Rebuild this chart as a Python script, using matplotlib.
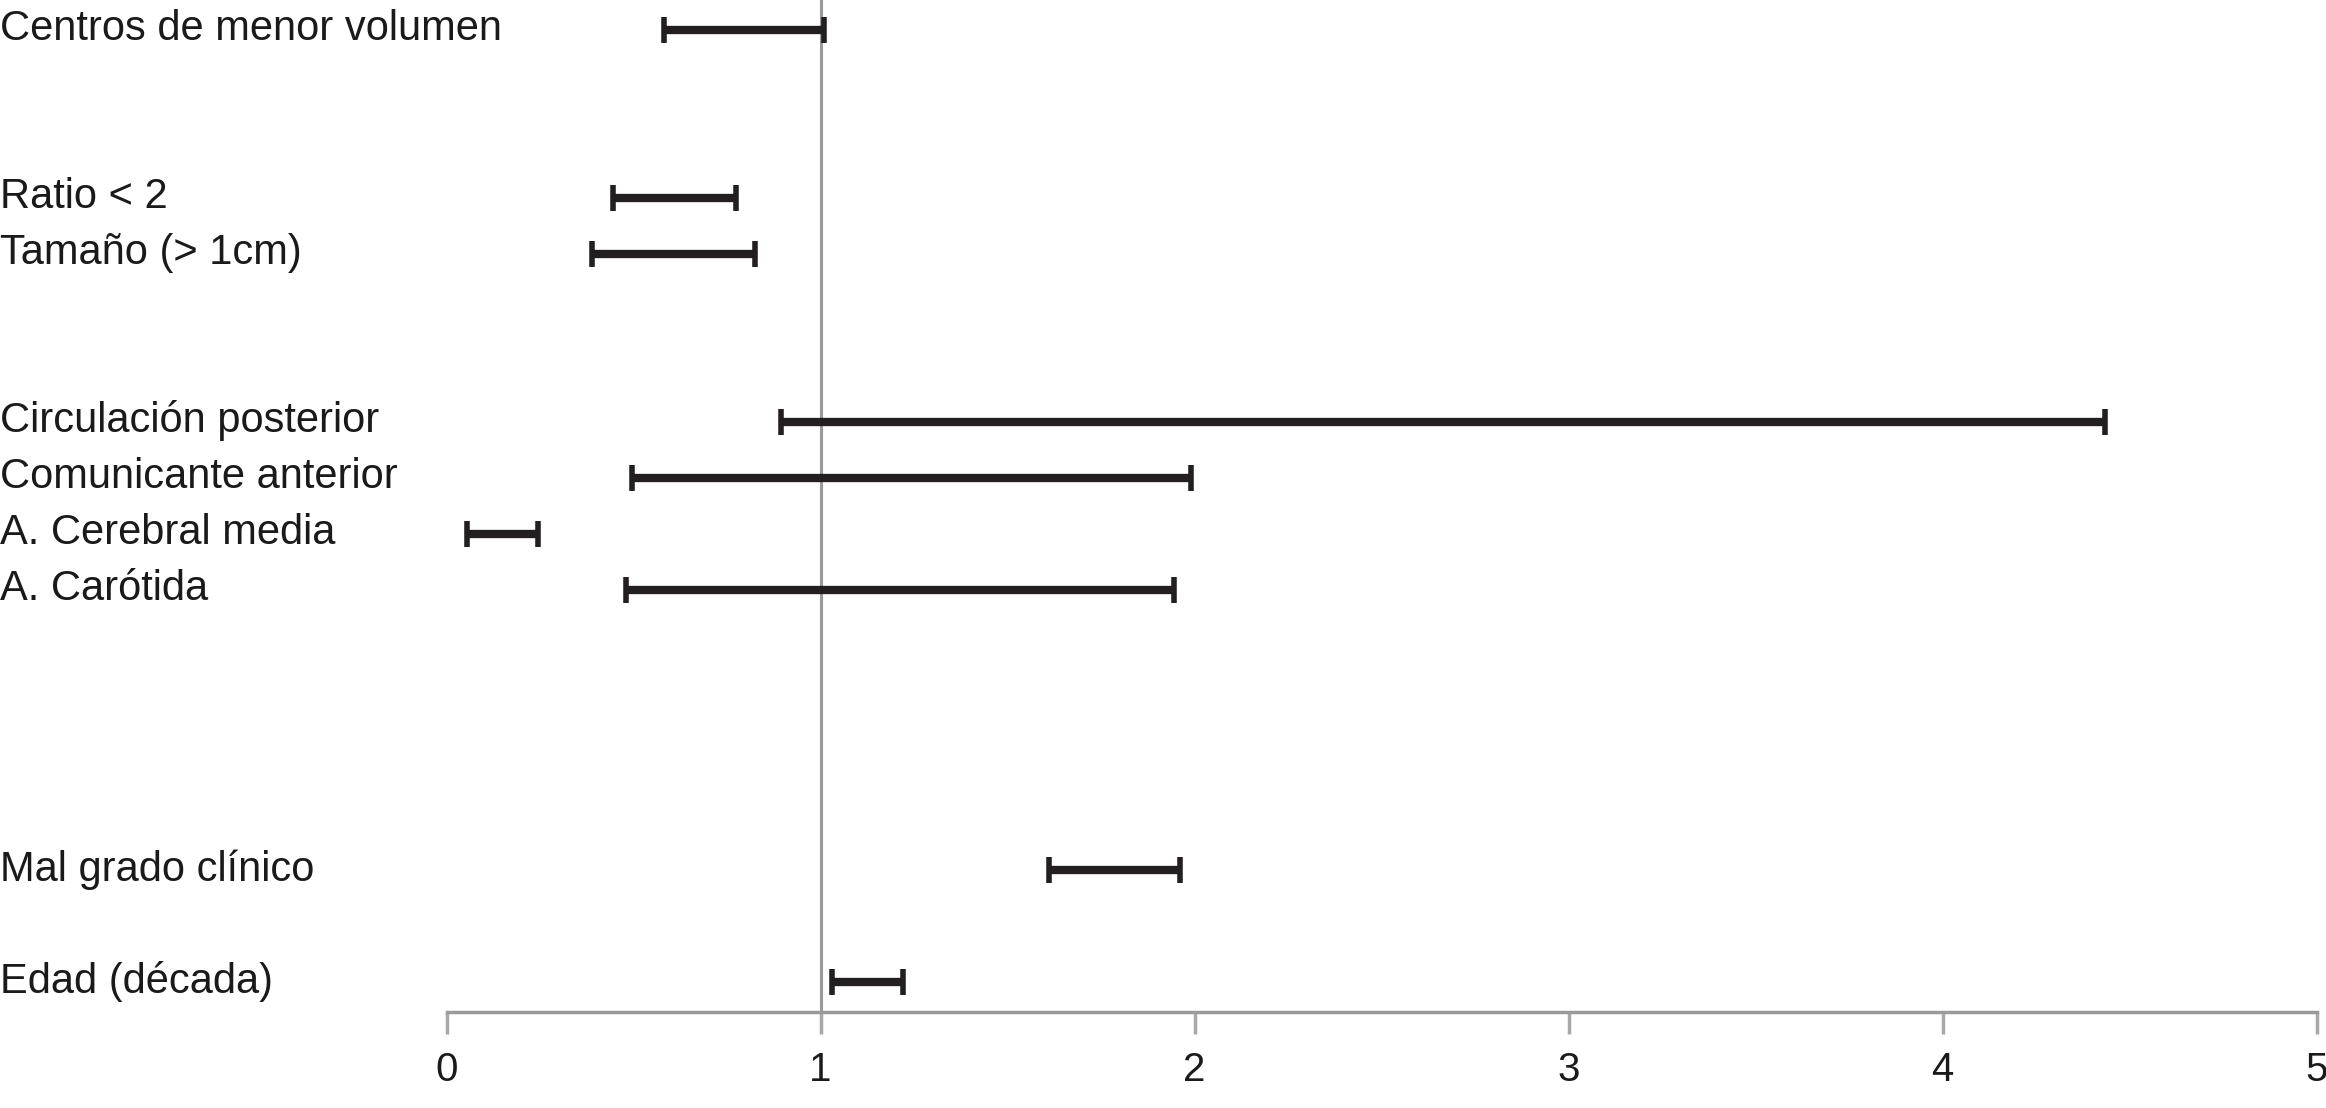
import numpy as np
import matplotlib
matplotlib.use("Agg")
import matplotlib.pyplot as plt
from matplotlib.transforms import blended_transform_factory, offset_copy

plt.rcParams['font.family'] = ['Liberation Sans', 'DejaVu Sans']

# categorias (de abajo hacia arriba, '' = hueco)
categorias = ["Edad (década)", "", "Mal grado clínico", "", "", "", "",
              "A. Carótida", "A. Cerebral media", "Comunicante anterior",
              "Circulación posterior", "", "", "Tamaño (> 1cm)", "Ratio < 2",
              "", "", "Centros de menor volumen"]
ic_inf = [1.03, np.nan, 1.61, np.nan, np.nan, np.nan, np.nan,
          0.48, 0.055, 0.495, 0.895, np.nan, np.nan, 0.39, 0.445,
          np.nan, np.nan, 0.58]
ic_sup = [1.22, np.nan, 1.96, np.nan, np.nan, np.nan, np.nan,
          1.945, 0.245, 1.99, 4.435, np.nan, np.nan, 0.825, 0.775,
          np.nan, np.nan, 1.01]
xticks = [0, 1, 2, 3, 4, 5]

lo = np.array(ic_inf)
hi = np.array(ic_sup)
pos = np.arange(len(categorias))
ok = ~np.isnan(lo)

fig = plt.figure(figsize=(23.26, 11.08), dpi=100)
ax = fig.add_axes([0.192, 0.0866, 0.804, 0.9134])

gris = "#9a9a9a"
negro = "#231f20"

ax.axvline(1, color=gris, lw=2.2, zorder=1)
ax.errorbar((lo[ok] + hi[ok]) / 2, pos[ok], xerr=(hi[ok] - lo[ok]) / 2,
            fmt="none", ecolor=negro, elinewidth=6, capsize=9.5, capthick=4,
            zorder=3)

ax.set_xlim(0, 5)
ax.set_ylim(-0.53, len(categorias) - 0.47)
ax.set_xticks(xticks)
ax.set_xticklabels([str(t) for t in xticks], fontsize=29)
ax.set_yticks([])
for s in ["left", "right", "top"]:
    ax.spines[s].set_visible(False)
ax.spines["bottom"].set_color(gris)
ax.spines["bottom"].set_linewidth(2.5)
ax.tick_params(axis="x", direction="out", length=16, width=2.5,
               color="#a8a8a8", pad=12, labelcolor="#1a1a1a")

# etiquetas a la izquierda, alineadas con cada barra
trans = blended_transform_factory(fig.transFigure, ax.transData)
trans = offset_copy(trans, fig=fig, y=-7.5, units="points")
for p, c in zip(pos, categorias):
    if c:
        ax.text(0.0, p, c, transform=trans, ha="left", va="baseline",
                fontsize=30, color="#1a1a1a", clip_on=False)

fig.savefig("out.png", dpi=100, facecolor="white")
